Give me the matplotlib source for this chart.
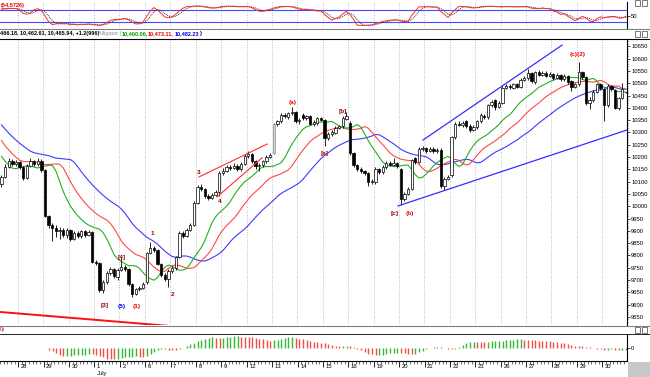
import numpy as np
import pandas as pd
import matplotlib
matplotlib.use("Agg")
import matplotlib.pyplot as plt
from matplotlib.patches import Rectangle
from matplotlib.lines import Line2D

W, H = 650, 377

# hourly DJIA bars, Jun 25 (last 5 bars) .. Jul 30
day_labels = ["28", "29", "30", "1", "2", "6", "7", "8", "9", "12", "13", "14",
              "15", "16", "19", "20", "21", "22", "23", "26", "27", "28", "29", "30"]
bars_per_day = 7
first_day_bars = 5

opens = [10090, 10120, 10160, 10185, 10172,
         10178, 10160, 10115, 10165, 10182, 10170, 10182,
         10148, 9960, 9922, 9910, 9898, 9905, 9885,
         9902, 9868, 9890, 9878, 9898, 9885, 9895,
         9775, 9768, 9658, 9692, 9730, 9745, 9712,
         9740, 9752, 9745, 9682, 9645, 9662, 9668,
         9690, 9810, 9830, 9822, 9765, 9720, 9705,
         9738, 9748, 9792, 9892, 9880, 9902, 9925,
         10015, 10078, 10070, 10042, 10032, 10045, 10058,
         10135, 10145, 10160, 10155, 10165, 10150, 10172,
         10205, 10212, 10182, 10162, 10168, 10182, 10200,
         10215, 10335, 10345, 10372, 10362, 10378, 10382,
         10345, 10372, 10360, 10366, 10335, 10338, 10358,
         10352, 10278, 10292, 10298, 10320, 10325, 10355,
         10340, 10215, 10168, 10152, 10142, 10135, 10098,
         10100, 10150, 10138, 10158, 10175, 10168, 10174,
         10150, 10030, 10050, 10072, 10195, 10180, 10232,
         10236, 10226, 10232, 10224, 10228, 10082, 10112,
         10125, 10280, 10335, 10330, 10345, 10328, 10310,
         10322, 10345, 10368, 10362, 10410, 10432, 10405,
         10420, 10482, 10490, 10482, 10495, 10485, 10515,
         10522, 10540, 10505, 10545, 10535, 10542, 10530,
         10536, 10522, 10532, 10516, 10530, 10508, 10486,
         10496, 10545, 10525, 10420, 10432, 10465, 10495,
         10478, 10410, 10488, 10472, 10400, 10440, 10463]
closes = [10120, 10160, 10185, 10172, 10178,
          10160, 10115, 10165, 10182, 10170, 10182, 10148,
          9960, 9922, 9910, 9898, 9905, 9885, 9902,
          9868, 9890, 9878, 9898, 9885, 9895, 9775,
          9768, 9658, 9692, 9730, 9745, 9715, 9740,
          9752, 9745, 9682, 9645, 9662, 9668, 9682,
          9810, 9830, 9822, 9765, 9720, 9705, 9738,
          9748, 9792, 9892, 9880, 9902, 9925, 10015,
          10078, 10070, 10042, 10032, 10045, 10058, 10135,
          10145, 10160, 10155, 10165, 10150, 10172, 10205,
          10212, 10182, 10162, 10168, 10182, 10200, 10208,
          10335, 10345, 10372, 10365, 10378, 10382, 10345,
          10352, 10360, 10366, 10335, 10342, 10358, 10352,
          10278, 10295, 10300, 10320, 10325, 10360, 10365,
          10215, 10168, 10152, 10142, 10135, 10098, 10102,
          10150, 10140, 10160, 10175, 10168, 10174, 10162,
          10030, 10050, 10072, 10188, 10180, 10232, 10236,
          10226, 10232, 10224, 10228, 10082, 10112, 10120,
          10280, 10335, 10330, 10340, 10325, 10310, 10322,
          10345, 10370, 10362, 10410, 10422, 10405, 10420,
          10482, 10490, 10484, 10495, 10485, 10515, 10522,
          10540, 10510, 10545, 10535, 10542, 10530, 10536,
          10522, 10532, 10516, 10530, 10505, 10486, 10496,
          10545, 10525, 10420, 10432, 10465, 10495, 10480,
          10410, 10488, 10475, 10400, 10440, 10475, 10466]
highs = [10128, 10172, 10195, 10192, 10188,
         10185, 10165, 10172, 10195, 10188, 10195, 10190,
         10150, 9965, 9930, 9922, 9915, 9912, 9910,
         9908, 9900, 9898, 9905, 9902, 9905, 9898,
         9780, 9772, 9698, 9738, 9752, 9750, 9748,
         9790, 9760, 9750, 9688, 9668, 9675, 9690,
         9815, 9855, 9838, 9828, 9770, 9728, 9745,
         9758, 9798, 9898, 9900, 9910, 9932, 10020,
         10088, 10090, 10075, 10050, 10052, 10065, 10142,
         10155, 10168, 10168, 10175, 10170, 10180, 10212,
         10225, 10218, 10188, 10175, 10188, 10208, 10215,
         10340, 10352, 10380, 10378, 10385, 10405, 10388,
         10358, 10380, 10372, 10370, 10350, 10362, 10362,
         10356, 10302, 10308, 10326, 10332, 10368, 10385,
         10345, 10220, 10172, 10158, 10148, 10140, 10110,
         10158, 10155, 10168, 10182, 10182, 10195, 10178,
         10155, 10058, 10080, 10192, 10200, 10240, 10245,
         10242, 10240, 10240, 10238, 10235, 10118, 10128,
         10285, 10342, 10345, 10348, 10352, 10335, 10330,
         10352, 10378, 10375, 10416, 10430, 10436, 10428,
         10488, 10498, 10496, 10502, 10500, 10522, 10530,
         10560, 10545, 10550, 10552, 10550, 10548, 10544,
         10542, 10540, 10538, 10536, 10535, 10512, 10502,
         10585, 10550, 10530, 10445, 10472, 10502, 10500,
         10482, 10495, 10492, 10478, 10445, 10500, 10466]
lows = [10080, 10115, 10155, 10165, 10165,
        10150, 10105, 10110, 10160, 10162, 10165, 10140,
        9955, 9912, 9860, 9875, 9868, 9875, 9870,
        9860, 9862, 9870, 9872, 9876, 9878, 9768,
        9760, 9650, 9648, 9685, 9722, 9708, 9700,
        9735, 9738, 9675, 9630, 9640, 9655, 9662,
        9685, 9805, 9815, 9760, 9712, 9695, 9672,
        9730, 9742, 9788, 9872, 9875, 9898, 9920,
        10010, 10062, 10035, 10025, 10028, 10040, 10040,
        10128, 10140, 10148, 10150, 10142, 10145, 10168,
        10198, 10175, 10150, 10145, 10160, 10175, 10195,
        10212, 10328, 10340, 10358, 10355, 10370, 10338,
        10335, 10352, 10352, 10330, 10328, 10332, 10345,
        10245, 10270, 10285, 10292, 10315, 10320, 10350,
        10208, 10160, 10145, 10135, 10128, 10082, 10090,
        10092, 10132, 10132, 10150, 10162, 10165, 10155,
        10005, 10022, 10045, 10068, 10172, 10175, 10225,
        10218, 10222, 10218, 10216, 10075, 10068, 10105,
        10120, 10275, 10325, 10322, 10318, 10302, 10305,
        10315, 10340, 10355, 10356, 10405, 10392, 10400,
        10415, 10476, 10478, 10475, 10480, 10480, 10508,
        10515, 10502, 10498, 10528, 10528, 10524, 10525,
        10515, 10516, 10510, 10510, 10498, 10470, 10480,
        10490, 10518, 10410, 10395, 10425, 10460, 10472,
        10345, 10405, 10468, 10395, 10392, 10435, 10462]
gray_bars = [75]

# Alligator seeds (line values at the left edge)
jaw_seed, teeth_seed, lips_seed = 10350, 10290, 10228

# wave labels: text, bar, price, colour
wave_labels = [("[3]", 28.5, 9598, "#990000"), ("(5)", 33.2, 9594, "#0000ee"),
               ("(1)", 37.3, 9594, "#ee0000"), ("[4]", 33.2, 9790, "#990000"),
               ("1", 41.5, 9891, "#990000"), ("2", 47.0, 9639, "#990000"),
               ("3", 54.4, 10139, "#990000"), ("4", 60.2, 10021, "#990000"),
               ("(a)", 80.3, 10423, "#ee0000"), ("[a]", 89.1, 10216, "#990000"),
               ("[b]", 94.1, 10387, "#990000"), ("[c]", 108.4, 9972, "#990000"),
               ("(b)", 112.5, 9972, "#ee0000"), ("(c)(2)", 158.6, 10615, "#ee0000")]

# trend lines: (bar0, price0, bar1, price1, colour, width)
trend_lines = [(-0.4, 9570, 48.0, 9511, "#ff1010", 1.4),
               (54.4, 10119, 73.2, 10253, "#ff3030", 0.8),
               (59.4, 10038, 71.8, 10197, "#ff3030", 0.8),
               (109.2, 10001, 172.3, 10310, "#3030ff", 0.9),
               (116.1, 10269, 154.4, 10655, "#3030ff", 0.9)]

opens = np.array(opens, float)
closes = np.array(closes, float)
highs = np.array(highs, float)
lows = np.array(lows, float)
n = len(closes)
idx = np.arange(n)
XL = (-0.4, 172.3)
day_starts = first_day_bars + bars_per_day * np.arange(len(day_labels)) - 0.5

med = (highs + lows) / 2


def smma(src, period, shift, seed):
    src = np.pad(src, (shift, 0), mode="edge")[:len(src)]
    out = np.empty(len(src))
    s = seed
    for i, v in enumerate(src):
        s = (s * (period - 1) + v) / period
        out[i] = s
    return out


jaw = smma(med, 13, 8, jaw_seed)
teeth = smma(med, 8, 5, teeth_seed)
lips = smma(med, 5, 3, lips_seed)

ms = pd.Series(med)
ao = (ms.rolling(5, min_periods=1).mean() - ms.rolling(34, min_periods=1).mean()).values
ao_up = np.r_[True, np.diff(ao) >= 0]

hh = pd.Series(highs).rolling(14, min_periods=1).max()
ll = pd.Series(lows).rolling(14, min_periods=1).min()
rawk = 100 * (pd.Series(closes) - ll) / (hh - ll)
stk = rawk.rolling(3, min_periods=1).mean()
std = stk.rolling(3, min_periods=1).mean()


def px(x0, y0, x1, y1):
    return [x0 / W, 1 - y1 / H, (x1 - x0) / W, (y1 - y0) / H]


def ftext(x, y, s, **kw):
    kw.setdefault("fontsize", 4.0)
    kw.setdefault("va", "center")
    kw.setdefault("family", "Liberation Sans")
    fig.text(x / W, 1 - y / H, s, **kw)


def hline(y, x0=0, x1=W, **kw):
    fig.add_artist(Line2D([x0 / W, x1 / W], [1 - y / H, 1 - y / H],
                          transform=fig.transFigure, **kw))


fig = plt.figure(figsize=(W / 100, H / 100), dpi=100)
fig.patch.set_facecolor("white")
plt.rcParams["font.family"] = ["Liberation Sans", "DejaVu Sans"]

ax_st = fig.add_axes(px(0, 2, 627, 28))
ax = fig.add_axes(px(0, 39, 627, 325))
ax_ao = fig.add_axes(px(0, 334, 627, 361))

for a in (ax_st, ax, ax_ao):
    a.set_xlim(*XL)
    for s in ("top", "left", "bottom"):
        a.spines[s].set_visible(False)
    a.spines["right"].set_linewidth(0.8)
    a.yaxis.tick_right()
    a.tick_params(axis="y", labelsize=4.2, length=2, width=0.5, pad=1)
    a.set_xticks([])
    a.set_facecolor("white")

for a in (ax_st, ax):
    for b in day_starts:
        a.axvline(b, color="#a8a8a8", lw=0.6, ls=(0, (1, 2)), zorder=0)

# stochastic
ax_st.set_ylim(-10, 118)
ax_st.axhline(80, color="#4848ff", lw=0.8)
ax_st.axhline(20, color="#4848ff", lw=0.8)
ax_st.plot(idx, std, color="#303030", lw=0.7, ls=(0, (1, 1)))
ax_st.plot(idx, stk, color="#ff2a2a", lw=0.7)
ax_st.set_yticks([50])

# candles
for i in idx:
    o, c, hi, lo = opens[i], closes[i], highs[i], lows[i]
    ax.vlines(i, lo, hi, color="black", lw=0.6, zorder=3)
    if i in gray_bars:
        fc, ec = "#d0d0d0", "#909090"
    else:
        fc = "black" if c < o else "white"
        ec = "black"
    hgt = max(abs(c - o), 2.5)
    ax.add_patch(Rectangle((i - 0.32, min(o, c)), 0.64, hgt, facecolor=fc,
                           edgecolor=ec, lw=0.5, zorder=4))

ax.plot(idx, jaw, color="#3c3cff", lw=0.8, zorder=2)
ax.plot(idx, teeth, color="#ff4848", lw=0.8, zorder=2)
ax.plot(idx, lips, color="#22b022", lw=0.8, zorder=2)

for b0, p0, b1, p1, col, lw in trend_lines:
    ax.plot([b0, b1], [p0, p1], color=col, lw=lw, zorder=5, clip_on=True)

for t, b, p, col in wave_labels:
    ax.text(b, p, t, color=col, fontsize=4.6, ha="center", va="center",
            fontweight="bold", zorder=6)

ax.set_ylim(9517, 10680)
ax.set_yticks(np.arange(9550, 10651, 50))
ax.set_yticklabels([str(v) for v in np.arange(9550, 10651, 50)])
ax.set_yticks(np.arange(9530, 10680, 10), minor=True)
ax.tick_params(axis="y", which="minor", length=1, width=0.4)

# awesome oscillator
m = np.abs(ao).max()
ax_ao.set_ylim(-m * 1.1, m * 1.2)
ax_ao.vlines(idx, 0, ao, colors=np.where(ao_up, "#36b836", "#f44c4c"), lw=1.0)
ax_ao.set_yticks([0])
ax_ao.spines["bottom"].set_visible(True)
ax_ao.spines["bottom"].set_linewidth(0.8)
ax_ao.set_xticks(day_starts)
ax_ao.set_xticks(idx - 0.5, minor=True)
ax_ao.tick_params(axis="x", which="major", length=4, width=0.6, labelbottom=False)
ax_ao.tick_params(axis="x", which="minor", length=2, width=0.4)
for b, lab in zip(day_starts, day_labels):
    ax_ao.text(b + 0.7, -0.2, lab, transform=ax_ao.get_xaxis_transform(),
               fontsize=4.2, ha="left", va="center")
ax_ao.text(day_starts[3] + 0.7, -0.45, "July", transform=ax_ao.get_xaxis_transform(),
           fontsize=4.2, ha="left", va="center")

# panel chrome
hline(28.5, color="#808080", lw=0.8)
hline(38.5, color="black", lw=0.8)
hline(325.5, color="#808080", lw=0.8)
hline(333.5, color="black", lw=0.6)
ftext(1, 5, "(54.5726)", color="#ee0000", fontweight="bold")
ftext(0, 33.5, "466.18, 10,462.61, 10,465.94, +1.2(996)", color="black", fontweight="bold")
ftext(98, 33.5, "Alligator (", color="#909090")
ftext(122, 33.5, "10,460.06,", color="#00a000", fontweight="bold")
ftext(148, 33.5, "10,473.11,", color="#ee0000", fontweight="bold")
ftext(175, 33.5, "10,482.23", color="#0000ee", fontweight="bold")
ftext(200, 33.5, ")", color="black", fontweight="bold")
ftext(0, 329.5, "0)", color="#cc0000")
for y in (3, 33.5, 329.5):
    for x in (635, 642):
        fig.add_artist(Rectangle((x / W, 1 - (y + 3) / H), 5 / W, 6 / H,
                                 transform=fig.transFigure, facecolor="white",
                                 edgecolor="#404040", lw=0.5))
fig.add_artist(Rectangle((628 / W, 0), 22 / W, 15 / H, transform=fig.transFigure,
                         facecolor="#c8c8c8", edgecolor="none"))

fig.savefig("out.png", dpi=100, facecolor="white")
